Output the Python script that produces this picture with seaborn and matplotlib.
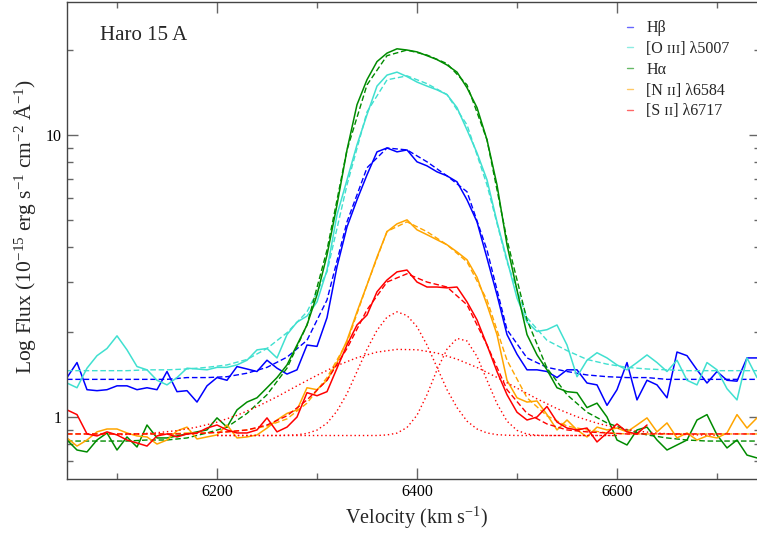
import numpy as np
import pandas as pd
import matplotlib
matplotlib.use("Agg")
import matplotlib.pyplot as plt
import matplotlib.ticker as mticker
import seaborn as sns

# observed profiles, sampled every 10 km/s
vel = np.arange(6050, 6741, 10)
vel_sii = np.arange(6050, 6631, 10)

hbeta = [1.38, 1.56, 1.25, 1.24, 1.25, 1.29, 1.29, 1.25, 1.27, 1.25,
         1.45, 1.23, 1.24, 1.13, 1.29, 1.38, 1.35, 1.51, 1.48, 1.45,
         1.59, 1.49, 1.42, 1.47, 1.80, 1.78, 2.25, 3.41, 4.72, 5.89,
         7.22, 8.71, 8.99, 8.71, 8.85, 8.03, 7.77, 7.40, 7.16, 6.82,
         5.89, 4.92, 3.66, 2.71, 1.96, 1.67, 1.47, 1.47, 1.45, 1.38,
         1.47, 1.47, 1.32, 1.30, 1.10, 1.25, 1.56, 1.15, 1.35, 1.30,
         1.17, 1.70, 1.65, 1.47, 1.32, 1.45, 1.35, 1.34, 1.62, 1.62]
oiii = [1.32, 1.27, 1.49, 1.65, 1.75, 1.94, 1.73, 1.51, 1.47, 1.35,
        1.30, 1.38, 1.49, 1.48, 1.47, 1.50, 1.50, 1.53, 1.59, 1.73,
        1.75, 1.62, 1.96, 2.17, 2.28, 2.56, 3.32, 5.21, 6.93, 9.23,
        11.8, 14.9, 16.3, 16.7, 16.1, 15.4, 14.9, 14.45, 13.9, 12.5,
        10.42, 8.64, 6.93, 4.92, 3.61, 2.64, 2.17, 2.01, 2.04, 2.12,
        1.80, 1.39, 1.59, 1.69, 1.62, 1.53, 1.47, 1.56, 1.66, 1.56,
        1.45, 1.59, 1.35, 1.30, 1.56, 1.47, 1.26, 1.15, 1.62, 1.38]
halpha = [0.829, 0.764, 0.752, 0.829, 0.878, 0.764, 0.850, 0.783, 0.937, 0.843,
          0.843, 0.857, 0.871, 0.886, 0.900, 0.993, 0.921, 1.06, 1.13, 1.17,
          1.27, 1.38, 1.53, 1.80, 2.12, 2.71, 3.75, 5.65, 8.85, 12.8,
          15.7, 18.2, 19.5, 20.2, 20.0, 19.7, 19.1, 18.5, 17.7, 16.7,
          14.7, 12.5, 9.61, 6.65, 4.08, 2.82, 1.96, 1.66, 1.47, 1.27,
          1.23, 1.22, 1.08, 1.12, 1.00, 0.829, 0.796, 0.900, 0.921, 0.829,
          0.764, 0.796, 0.829, 0.976, 1.02, 0.864, 0.777, 0.829, 0.733, 0.716]
nii = [0.843, 0.789, 0.829, 0.886, 0.907, 0.907, 0.878, 0.857, 0.850, 0.802,
       0.829, 0.893, 0.921, 0.836, 0.850, 0.864, 0.937, 0.843, 0.850, 0.864,
       0.914, 0.976, 1.03, 1.06, 1.27, 1.25, 1.35, 1.56, 1.87, 2.36,
       2.94, 3.69, 4.54, 4.84, 5.00, 4.61, 4.43, 4.25, 4.08, 3.85,
       3.61, 3.13, 2.50, 1.96, 1.35, 1.17, 1.13, 1.14, 1.02, 0.900,
       0.976, 0.900, 0.850, 0.921, 0.900, 0.914, 0.886, 0.937, 0.993, 0.886,
       0.953, 0.843, 0.878, 0.829, 0.857, 0.843, 0.878, 1.02, 0.914, 0.993]
sii = [1.06, 1.02, 0.871, 0.857, 0.886, 0.864, 0.829, 0.809, 0.789, 0.857,
       0.871, 0.850, 0.871, 0.878, 0.914, 0.937, 0.900, 0.878, 0.878, 0.900,
       0.993, 0.886, 0.921, 1.00, 1.22, 1.19, 1.23, 1.49, 1.80, 2.12,
       2.30, 2.78, 3.06, 3.27, 3.32, 3.01, 2.89, 2.89, 2.87, 2.89,
       2.56, 2.21, 1.80, 1.45, 1.20, 1.04, 0.976, 1.00, 1.09, 0.96,
       0.914, 0.900, 0.914, 0.816, 0.878, 0.945, 0.886, 0.871, 0.937]

# gaussian fits, every 20 km/s
vel_fit = np.arange(6050, 6751, 20)
hbeta_fit = [1.36, 1.36, 1.36, 1.36, 1.36, 1.36, 1.38, 1.38, 1.39, 1.43, 1.50, 1.63,
             1.87, 2.60, 4.92, 7.65, 8.99, 8.85, 8.03, 7.16, 6.29, 3.91, 2.04, 1.62,
             1.50, 1.45, 1.41, 1.39, 1.38, 1.38, 1.36, 1.36, 1.36, 1.36, 1.36, 1.36]
oiii_fit = [1.46, 1.46, 1.46, 1.46, 1.47, 1.47, 1.48, 1.50, 1.53, 1.60, 1.75, 1.99,
            2.36, 3.27, 6.65, 12.07, 15.68, 16.2, 15.2, 13.9, 10.86, 6.65, 3.55, 2.25,
            1.87, 1.72, 1.60, 1.54, 1.50, 1.48, 1.47, 1.46, 1.46, 1.46, 1.46, 1.46]
halpha_fit = [0.822, 0.822, 0.822, 0.822, 0.829, 0.829, 0.843, 0.878, 0.921, 1.03, 1.20, 1.49,
              2.12, 3.91, 8.85, 15.05, 19.1, 20.0, 19.2, 17.9, 15.05, 9.61, 4.25, 2.21,
              1.49, 1.20, 1.04, 0.953, 0.900, 0.864, 0.843, 0.829, 0.822, 0.822, 0.822, 0.822]
nii_fit = [0.871, 0.871, 0.871, 0.871, 0.871, 0.871, 0.878, 0.878, 0.886, 0.900, 0.929, 0.985,
           1.12, 1.38, 1.84, 2.94, 4.55, 4.92, 4.54, 4.08, 3.55, 2.60, 1.59, 1.17,
           1.01, 0.929, 0.900, 0.878, 0.871, 0.871, 0.871, 0.871, 0.871, 0.871, 0.871, 0.871]
sii_fit = [0.871, 0.871, 0.871, 0.871, 0.871, 0.871, 0.871, 0.878, 0.886, 0.900, 0.937, 1.01,
           1.15, 1.35, 1.75, 2.40, 3.01, 3.22, 3.01, 2.89, 2.50, 1.80, 1.25, 1.03,
           0.945, 0.900, 0.886, 0.878, 0.871, 0.871, 0.871, 0.871, 0.871, 0.871, 0.871, 0.871]

# [S II] individual components
vel_comp = np.arange(6200, 6601, 10)
sii_c1 = [0.86, 0.86, 0.86, 0.86, 0.86, 0.86, 0.86, 0.862, 0.865, 0.875,
          0.899, 0.951, 1.05, 1.21, 1.45, 1.74, 2.03, 2.26, 2.36, 2.29,
          2.09, 1.80, 1.50, 1.25, 1.08, 0.967, 0.907, 0.878, 0.866, 0.862,
          0.86, 0.86, 0.86, 0.86, 0.86, 0.86, 0.86, 0.86, 0.86, 0.86, 0.86]
sii_c2 = [0.86, 0.86, 0.86, 0.86, 0.86, 0.86, 0.86, 0.86, 0.86, 0.86,
          0.86, 0.86, 0.86, 0.86, 0.86, 0.86, 0.86, 0.864, 0.877, 0.918,
          1.015, 1.20, 1.47, 1.74, 1.90, 1.86, 1.64, 1.35, 1.115, 0.967,
          0.897, 0.870, 0.862, 0.86, 0.86, 0.86, 0.86, 0.86, 0.86, 0.86, 0.86]
vel_broad = np.arange(6100, 6701, 20)
sii_c3 = [0.865, 0.870, 0.880, 0.895, 0.921, 0.959, 1.014, 1.088, 1.18, 1.29,
          1.406, 1.522, 1.623, 1.699, 1.737, 1.732, 1.686, 1.604, 1.499, 1.382,
          1.266, 1.16, 1.071, 1.002, 0.951, 0.915, 0.892, 0.877, 0.869, 0.864, 0.862]

labels = ["H\u03b2", "[O \u026a\u026a\u026a] \u03bb5007", "H\u03b1",
          "[N \u026a\u026a] \u03bb6584", "[S \u026a\u026a] \u03bb6717"]
colors = ["#0000ff", "#40e0d0", "#008b00", "#ffa500", "#ff0000"]

sns.set_style("ticks")
plt.rcParams['font.family'] = ['Liberation Serif', 'DejaVu Serif']
plt.rcParams['mathtext.fontset'] = 'custom'
plt.rcParams['mathtext.rm'] = 'Liberation Serif'
plt.rcParams['mathtext.it'] = 'Liberation Serif:italic'

fig = plt.figure(figsize=(7.57, 5.34), dpi=100)
ax = fig.add_axes([67/757, 1 - 479/534, 693/757, 477/534])

obs = [(vel, hbeta), (vel, oiii), (vel, halpha), (vel, nii), (vel_sii, sii)]
fits = [hbeta_fit, oiii_fit, halpha_fit, nii_fit, sii_fit]

for (x, y), yf, c, lab in zip(obs, fits, colors, labels):
    sns.lineplot(x=x, y=y, color=c, lw=1.1, ax=ax, label=lab)
    sns.lineplot(x=vel_fit, y=yf, color=c, lw=1.0, linestyle=(0, (4, 2)), ax=ax)

for xc, yc in [(vel_comp, sii_c1), (vel_comp, sii_c2), (vel_broad, sii_c3)]:
    sns.lineplot(x=xc, y=yc, color="#ff0000", lw=1.0, linestyle=(0, (1, 2)), ax=ax)

ax.set_yscale("log")
ax.set_xlim(6050, 6743)
ax.set_ylim(0.603, 29.6)
ax.xaxis.set_major_locator(mticker.MultipleLocator(200))
ax.xaxis.set_minor_locator(mticker.MultipleLocator(100))
ax.yaxis.set_major_locator(mticker.FixedLocator([1, 10]))
ax.yaxis.set_major_formatter(mticker.FixedFormatter(["1", "10"]))
ax.yaxis.set_minor_locator(mticker.LogLocator(base=10, subs=np.arange(2, 10)))
ax.yaxis.set_minor_formatter(mticker.NullFormatter())

ax.tick_params(which="both", direction="in", top=True, right=True,
               color="#666666", labelsize=11.5, labelcolor="black")
ax.tick_params(which="major", length=8, width=1)
ax.tick_params(which="minor", length=4, width=1)
for sp in ax.spines.values():
    sp.set_color("#444444")
    sp.set_linewidth(1)

ax.set_xlabel(r"Velocity (km s$^{-1}$)", fontsize=14.5)
ax.set_ylabel(r"Log Flux (10$^{-15}$ erg s$^{-1}$ cm$^{-2}$ Å$^{-1}$)", fontsize=15.5)
ax.xaxis.set_label_coords(0.505, -0.055)
ax.yaxis.set_label_coords(-0.042, 0.53)

ax.text(0.048, 0.93, "Haro 15 A", transform=ax.transAxes, fontsize=15,
        va="center", ha="left")

leg = ax.legend(loc="upper left", bbox_to_anchor=(0.808, 0.962), frameon=False,
                fontsize=11.5, handlelength=0.4, handletextpad=0.8,
                labelspacing=0.3, borderaxespad=0, borderpad=0)
for h in leg.get_lines():
    h.set_linewidth(1.0)
    h.set_alpha(0.6)

fig.savefig("out.png", dpi=100)
